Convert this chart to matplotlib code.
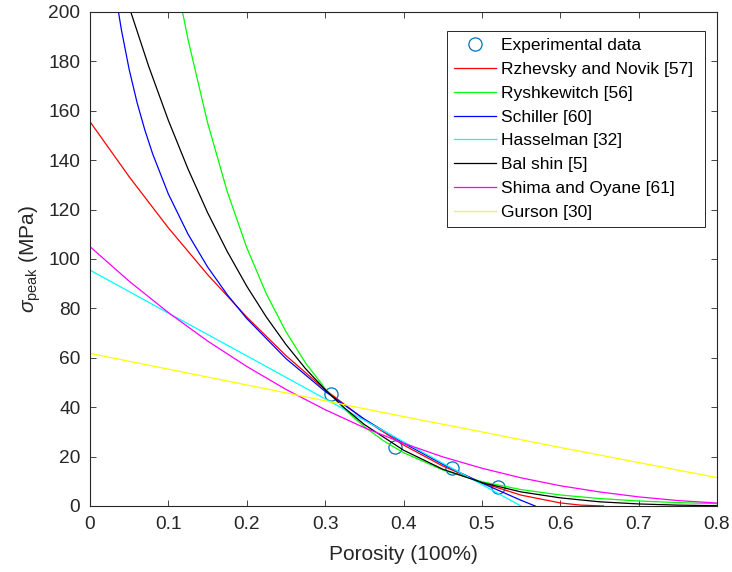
import matplotlib
matplotlib.use("Agg")
import matplotlib.pyplot as plt

plt.rcParams["font.family"] = ["Liberation Sans", "DejaVu Sans"]
plt.rcParams["mathtext.fontset"] = "custom"
plt.rcParams["mathtext.rm"] = "Liberation Sans"
plt.rcParams["mathtext.it"] = "Liberation Sans:italic"
plt.rcParams["mathtext.sf"] = "Liberation Sans"

AX_COLOR = "#262626"

# measured peak stress vs porosity
exp_porosity = [0.308, 0.389, 0.462, 0.520]
exp_stress = [45.4, 23.8, 15.2, 7.7]

# model predictions (porosity, stress in MPa)
rzhevsky_p = [0.0, 0.05, 0.1, 0.15, 0.2, 0.25, 0.3, 0.35, 0.4, 0.45, 0.5, 0.55, 0.6, 0.625, 0.655]
rzhevsky_s = [155.6, 133.3, 112.6, 93.7, 76.5, 60.9, 47.1, 35.0, 24.7, 16.2, 9.4, 4.4, 1.25, 0.38, 0.0]

ryshkewitch_p = [0.11, 0.125, 0.15, 0.175, 0.2, 0.225, 0.25, 0.275, 0.3, 0.325, 0.35, 0.375, 0.4,
                 0.45, 0.5, 0.55, 0.6, 0.65, 0.7, 0.75, 0.8]
ryshkewitch_s = [212.7, 189.0, 155.2, 127.4, 104.6, 85.9, 70.6, 57.9, 47.6, 39.1, 32.1, 26.3, 21.6,
                 14.6, 9.84, 6.64, 4.47, 3.02, 2.04, 1.37, 0.93]

schiller_p = [0.03, 0.035, 0.04, 0.05, 0.06, 0.07, 0.08, 0.1, 0.125, 0.15, 0.175, 0.2, 0.25, 0.3,
              0.35, 0.4, 0.45, 0.5, 0.55, 0.568]
schiller_s = [213.8, 202.6, 192.9, 176.7, 163.4, 152.2, 142.5, 126.3, 110.1, 96.8, 85.6, 75.9, 59.7,
              46.4, 35.2, 25.5, 16.9, 9.3, 2.3, 0.0]

hasselman_p = [0.0, 0.1, 0.2, 0.3, 0.4, 0.5, 0.55]
hasselman_s = [95.5, 78.1, 60.8, 43.4, 26.0, 8.7, 0.0]

balshin_p = [0.04, 0.05, 0.075, 0.1, 0.125, 0.15, 0.175, 0.2, 0.225, 0.25, 0.275, 0.3, 0.325, 0.35,
             0.4, 0.45, 0.5, 0.55, 0.6, 0.65, 0.7, 0.75, 0.8]
balshin_s = [212.3, 202.0, 177.9, 156.1, 136.5, 118.8, 103.1, 89.0, 76.5, 65.4, 55.6, 47.1, 39.6, 33.0,
             22.6, 14.9, 9.5, 5.7, 3.3, 1.7, 0.83, 0.35, 0.12]

shima_p = [0.0, 0.05, 0.1, 0.15, 0.2, 0.25, 0.3, 0.35, 0.4, 0.45, 0.5, 0.55, 0.6, 0.65, 0.7, 0.75, 0.8]
shima_s = [105.0, 91.0, 78.3, 66.8, 56.5, 47.2, 39.0, 31.7, 25.4, 19.9, 15.3, 11.4, 8.2, 5.7, 3.7, 2.2, 1.2]

gurson_p = [0.0, 0.1, 0.2, 0.3, 0.4, 0.5, 0.6, 0.7, 0.8]
gurson_s = [61.8, 55.4, 49.0, 42.6, 36.2, 30.0, 23.7, 17.6, 11.5]

models = [
    ("Rzhevsky and Novik [57]", rzhevsky_p, rzhevsky_s, "#ff0000"),
    ("Ryshkewitch [56]", ryshkewitch_p, ryshkewitch_s, "#00ff00"),
    ("Schiller [60]", schiller_p, schiller_s, "#0000ff"),
    ("Hasselman [32]", hasselman_p, hasselman_s, "#00ffff"),
    ("Bal shin [5]", balshin_p, balshin_s, "#000000"),
    ("Shima and Oyane [61]", shima_p, shima_s, "#ff00ff"),
    ("Gurson [30]", gurson_p, gurson_s, "#ffff00"),
]

fig = plt.figure(figsize=(7.32, 5.72), dpi=100)
ax = fig.add_axes([90 / 732, 1 - 506 / 572, 627 / 732, 494 / 572])

ax.plot(exp_porosity, exp_stress, "o", mfc="none", mec="#0072BD", ms=9.5, mew=0.9,
        label="Experimental data")
for name, p, s, c in models:
    ax.plot(p, s, "-", color=c, lw=0.9, label=name)

ax.set_xlim(0, 0.8)
ax.set_ylim(0, 200)
ax.set_xticks([0, 0.1, 0.2, 0.3, 0.4, 0.5, 0.6, 0.7, 0.8])
ax.set_xticklabels(["0", "0.1", "0.2", "0.3", "0.4", "0.5", "0.6", "0.7", "0.8"])
ax.set_yticks(range(0, 201, 20))

ax.tick_params(direction="in", top=True, right=True, length=4.5, width=0.6,
               labelsize=13.8, pad=7, colors=AX_COLOR)
for sp in ax.spines.values():
    sp.set_color(AX_COLOR)
    sp.set_linewidth(0.8)

ax.set_xlabel("Porosity (100%)", fontsize=15, color=AX_COLOR, labelpad=9)
ax.set_ylabel(r"$\sigma_{\mathrm{peak}}$ (MPa)", fontsize=15, color=AX_COLOR, labelpad=4)

# fixed-width legend box, entries left-aligned
leg = ax.legend(loc="upper left", bbox_to_anchor=(0.5694, 0.5, 0.4115, 0.4615), mode="expand",
                fontsize=12.5, frameon=True, fancybox=False, framealpha=1, edgecolor=AX_COLOR,
                handlelength=2.4, handletextpad=0.3, labelspacing=0.5,
                borderpad=0.4, borderaxespad=0)
leg.get_frame().set_linewidth(0.7)

fig.savefig("out.png", dpi=100)
